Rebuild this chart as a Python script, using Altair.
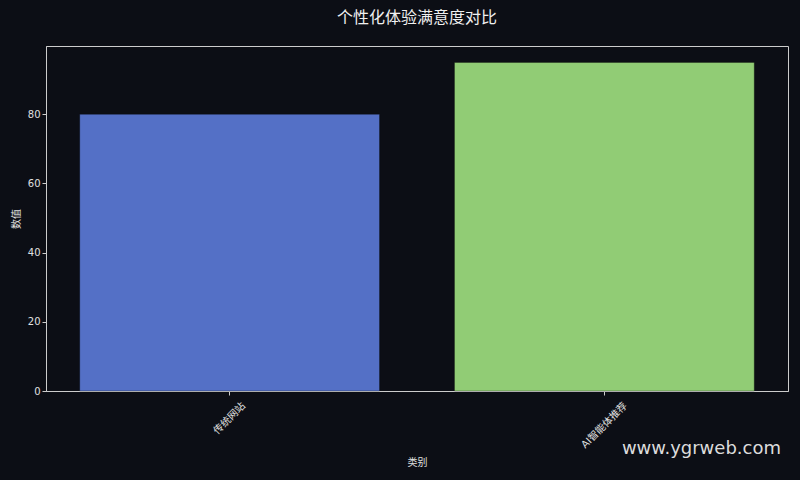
import altair as alt
import pandas as pd
import jinja2

categories = ["传统网站", "AI智能体推荐"]
values = [80, 95]
colors = ["#5470c6", "#91cc75"]

df = pd.DataFrame({"类别": categories, "数值": values})
FONT = "DejaVu Sans, Noto Sans CJK SC"
BG = "#0c0e15"

bars = alt.Chart(df).mark_bar(stroke="#000000", strokeOpacity=0.3, strokeWidth=1).encode(
    x=alt.X("类别:N", sort=categories,
            scale=alt.Scale(paddingInner=0.2, paddingOuter=0.09),
            axis=alt.Axis(labelAngle=-45, labelAlign="center", labelBaseline="middle",
                          labelPadding={"condition": {"test": "datum.value == 'AI智能体推荐'", "value": 30}, "value": 23},
                          title="类别", titlePadding=8)),
    y=alt.Y("数值:Q", scale=alt.Scale(domain=[0, 99.75], nice=False),
            axis=alt.Axis(values=[0, 20, 40, 60, 80], title="数值", titlePadding=6)),
    color=alt.Color("类别:N", scale=alt.Scale(domain=categories, range=colors), legend=None),
)

wm = alt.Chart(pd.DataFrame({"t": ["www.ygrweb.com"]})).mark_text(
    align="right", baseline="middle", fontSize=18, color="#dcdcdc", font=FONT, clip=False
).encode(text="t:N", x=alt.value(735), y=alt.value(403))

chart = alt.layer(bars, wm).properties(
    width=742, height=345,
    title=alt.TitleParams("个性化体验满意度对比", fontSize=16, color="#f0f0f0",
                          font=FONT, fontWeight="normal", anchor="middle", offset=20),
    background=BG,
    padding={"left": 38, "top": 38, "right": 4, "bottom": 80},
    autosize=alt.AutoSizeParams(type="none"),
).configure_view(stroke="#cccccc", strokeWidth=1).configure_axis(
    labelColor="#e0e0e0", titleColor="#e0e0e0", labelFont=FONT, titleFont=FONT,
    labelFontSize=10, titleFontSize=10, titleFontWeight="normal",
    domainColor="#cccccc", tickColor="#cccccc", tickSize=4, grid=False,
)

TEMPLATE_SRC = """<!DOCTYPE html>
<html>
<head>
  <style>
    html, body { background: """ + BG + """; }
    #{{ output_div }}.vega-embed { width: 100%; display: flex; }
  </style>
  <script type="text/javascript" src="{{ base_url }}/vega@{{ vega_version }}"></script>
  <script type="text/javascript" src="{{ base_url }}/vega-lite@{{ vegalite_version }}"></script>
  <script type="text/javascript" src="{{ base_url }}/vega-embed@{{ vegaembed_version }}"></script>
</head>
<body>
  <div id="{{ output_div }}"></div>
  <script>
    (function(vegaEmbed) {
      var spec = {{ spec }};
      var embedOpt = {{ embed_options }};
      vegaEmbed("#{{ output_div }}", spec, embedOpt).catch(console.error);
    })(vegaEmbed);
  </script>
</body>
</html>
"""

chart.save("out.html", embed_options={"renderer": "svg", "actions": False},
           template=jinja2.Template(TEMPLATE_SRC))
